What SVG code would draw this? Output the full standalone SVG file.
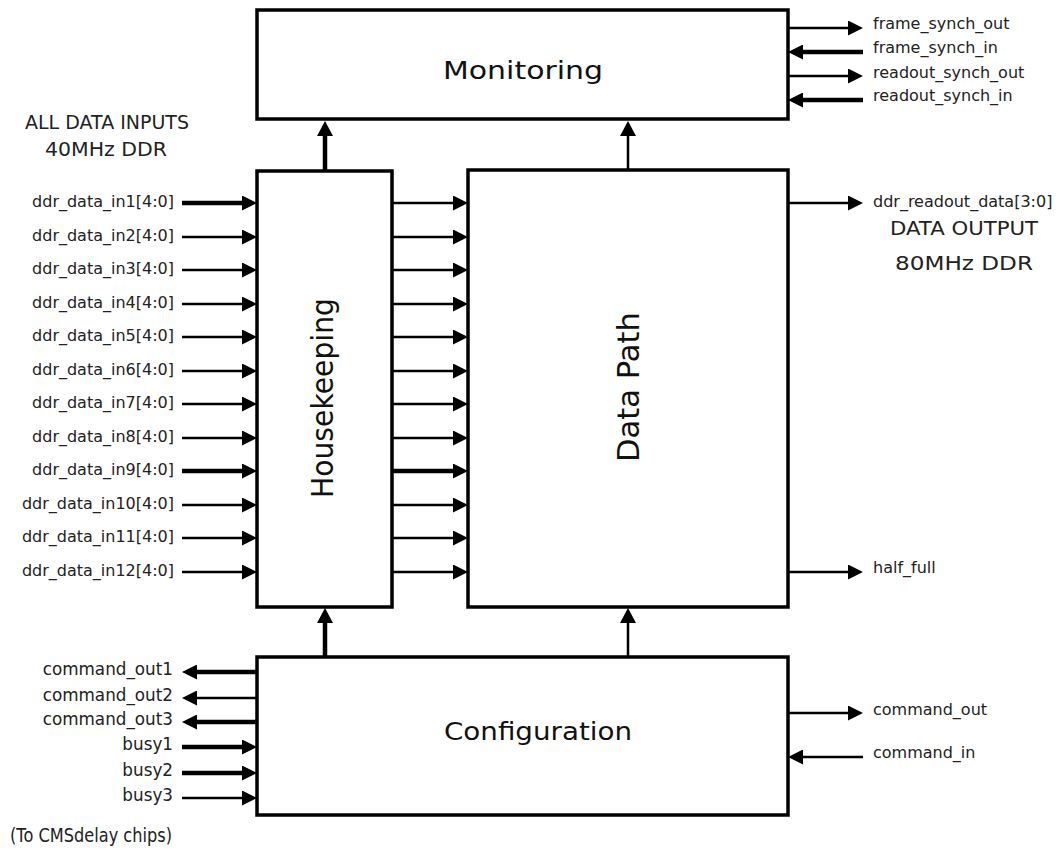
<svg xmlns="http://www.w3.org/2000/svg" width="1063" height="854" viewBox="0 0 1063 854">
<style>
.box{fill:#fff;stroke:#000;stroke-width:3.5}
.title{font-family:"DejaVu Sans",sans-serif;font-size:24px;fill:#111}
.vt{font-size:25px}
.lbl{font-family:"DejaVu Sans",sans-serif;font-size:16px;fill:#222}
.cmd{font-size:16.8px}
.note{font-family:"DejaVu Sans",sans-serif;font-size:20px;fill:#222}
.thin{stroke:#000;stroke-width:2.5;fill:none}
.thick{stroke:#000;stroke-width:4.5;fill:none}
.end{text-anchor:end}
.mid{text-anchor:middle}
</style>
<defs>
<marker id="ah" markerUnits="userSpaceOnUse" markerWidth="15" markerHeight="15" viewBox="0 0 15 15" refX="10" refY="7.5" orient="auto">
<path d="M0,0 L15,7.5 L0,15 z" fill="#000"/>
</marker>
<marker id="av" markerUnits="userSpaceOnUse" markerWidth="15" markerHeight="16" viewBox="0 0 15 16" refX="10" refY="8" orient="auto">
<path d="M0,0 L15,8 L0,16 z" fill="#000"/>
</marker>
</defs>

<g id="connectors">
<line class="thick" x1="182" y1="203" x2="252" y2="203" marker-end="url(#ah)"/>
<line class="thin" x1="182" y1="237" x2="252" y2="237" marker-end="url(#ah)"/>
<line class="thin" x1="182" y1="270" x2="252" y2="270" marker-end="url(#ah)"/>
<line class="thin" x1="182" y1="304" x2="252" y2="304" marker-end="url(#ah)"/>
<line class="thin" x1="182" y1="337" x2="252" y2="337" marker-end="url(#ah)"/>
<line class="thin" x1="182" y1="371" x2="252" y2="371" marker-end="url(#ah)"/>
<line class="thin" x1="182" y1="404" x2="252" y2="404" marker-end="url(#ah)"/>
<line class="thin" x1="182" y1="438" x2="252" y2="438" marker-end="url(#ah)"/>
<line class="thick" x1="182" y1="471" x2="252" y2="471" marker-end="url(#ah)"/>
<line class="thin" x1="182" y1="505" x2="252" y2="505" marker-end="url(#ah)"/>
<line class="thin" x1="182" y1="538" x2="252" y2="538" marker-end="url(#ah)"/>
<line class="thin" x1="182" y1="572" x2="252" y2="572" marker-end="url(#ah)"/>
<line class="thin" x1="392" y1="203" x2="463" y2="203" marker-end="url(#ah)"/>
<line class="thin" x1="392" y1="237" x2="463" y2="237" marker-end="url(#ah)"/>
<line class="thin" x1="392" y1="270" x2="463" y2="270" marker-end="url(#ah)"/>
<line class="thin" x1="392" y1="304" x2="463" y2="304" marker-end="url(#ah)"/>
<line class="thin" x1="392" y1="337" x2="463" y2="337" marker-end="url(#ah)"/>
<line class="thin" x1="392" y1="371" x2="463" y2="371" marker-end="url(#ah)"/>
<line class="thin" x1="392" y1="404" x2="463" y2="404" marker-end="url(#ah)"/>
<line class="thin" x1="392" y1="438" x2="463" y2="438" marker-end="url(#ah)"/>
<line class="thick" x1="392" y1="471" x2="463" y2="471" marker-end="url(#ah)"/>
<line class="thin" x1="392" y1="505" x2="463" y2="505" marker-end="url(#ah)"/>
<line class="thin" x1="392" y1="538" x2="463" y2="538" marker-end="url(#ah)"/>
<line class="thin" x1="392" y1="572" x2="463" y2="572" marker-end="url(#ah)"/>
<line class="thick" x1="325" y1="171" x2="325" y2="126" marker-end="url(#av)"/>
<line class="thin" x1="628" y1="170" x2="628" y2="126" marker-end="url(#av)"/>
<line class="thick" x1="325" y1="657" x2="325" y2="613" marker-end="url(#av)"/>
<line class="thin" x1="628" y1="657" x2="628" y2="613" marker-end="url(#av)"/>
<line class="thin" x1="788" y1="28" x2="858" y2="28" marker-end="url(#ah)"/>
<line class="thick" x1="863" y1="52" x2="793" y2="52" marker-end="url(#ah)"/>
<line class="thin" x1="788" y1="76" x2="858" y2="76" marker-end="url(#ah)"/>
<line class="thick" x1="863" y1="100" x2="793" y2="100" marker-end="url(#ah)"/>
<line class="thin" x1="788" y1="203" x2="858" y2="203" marker-end="url(#ah)"/>
<line class="thin" x1="788" y1="572" x2="858" y2="572" marker-end="url(#ah)"/>
<line class="thin" x1="788" y1="713" x2="858" y2="713" marker-end="url(#ah)"/>
<line class="thin" x1="863" y1="757" x2="793" y2="757" marker-end="url(#ah)"/>
<line class="thick" x1="257" y1="672" x2="187" y2="672" marker-end="url(#ah)"/>
<line class="thin" x1="257" y1="698" x2="187" y2="698" marker-end="url(#ah)"/>
<line class="thick" x1="257" y1="722" x2="187" y2="722" marker-end="url(#ah)"/>
<line class="thick" x1="182" y1="747" x2="252" y2="747" marker-end="url(#ah)"/>
<line class="thick" x1="182" y1="773" x2="252" y2="773" marker-end="url(#ah)"/>
<line class="thin" x1="182" y1="798" x2="252" y2="798" marker-end="url(#ah)"/>
</g>

<g id="monitoring">
<rect class="box" x="257" y="10" width="531" height="109"/>
<text class="title mid" x="523" y="79" textLength="160" lengthAdjust="spacingAndGlyphs">Monitoring</text>
</g>
<g id="housekeeping">
<rect class="box" x="257" y="171" width="135" height="436"/>
<text class="title vt" transform="translate(333,498) scale(1.2,1) rotate(-90)" x="0" y="0" textLength="200" lengthAdjust="spacingAndGlyphs">Housekeeping</text>
</g>
<g id="datapath">
<rect class="box" x="468" y="170" width="320" height="437"/>
<text class="title vt" transform="translate(639,462) scale(1.2,1) rotate(-90)" x="0" y="0" textLength="150" lengthAdjust="spacingAndGlyphs">Data Path</text>
</g>
<g id="configuration">
<rect class="box" x="257" y="657" width="531" height="158"/>
<text class="title mid" x="538" y="740" textLength="188" lengthAdjust="spacingAndGlyphs">Configuration</text>
</g>

<g id="labels">
<text class="note mid" x="107" y="129" textLength="164" lengthAdjust="spacingAndGlyphs">ALL DATA INPUTS</text>
<text class="note mid" x="106" y="156" textLength="122" lengthAdjust="spacingAndGlyphs">40MHz DDR</text>
<text class="lbl end" x="174" y="207">ddr_data_in1[4:0]</text>
<text class="lbl end" x="174" y="241">ddr_data_in2[4:0]</text>
<text class="lbl end" x="174" y="274">ddr_data_in3[4:0]</text>
<text class="lbl end" x="174" y="308">ddr_data_in4[4:0]</text>
<text class="lbl end" x="174" y="341">ddr_data_in5[4:0]</text>
<text class="lbl end" x="174" y="375">ddr_data_in6[4:0]</text>
<text class="lbl end" x="174" y="408">ddr_data_in7[4:0]</text>
<text class="lbl end" x="174" y="442">ddr_data_in8[4:0]</text>
<text class="lbl end" x="174" y="475">ddr_data_in9[4:0]</text>
<text class="lbl end" x="174" y="509">ddr_data_in10[4:0]</text>
<text class="lbl end" x="174" y="542">ddr_data_in11[4:0]</text>
<text class="lbl end" x="174" y="576">ddr_data_in12[4:0]</text>
<text class="lbl" x="873" y="29">frame_synch_out</text>
<text class="lbl" x="873" y="53">frame_synch_in</text>
<text class="lbl" x="873" y="78">readout_synch_out</text>
<text class="lbl" x="873" y="101">readout_synch_in</text>
<text class="lbl" x="873" y="207">ddr_readout_data[3:0]</text>
<text class="note mid" x="964" y="235" textLength="148" lengthAdjust="spacingAndGlyphs">DATA OUTPUT</text>
<text class="note mid" x="964" y="270" textLength="138" lengthAdjust="spacingAndGlyphs">80MHz DDR</text>
<text class="lbl" x="873" y="573">half_full</text>
<text class="lbl" x="873" y="715">command_out</text>
<text class="lbl" x="873" y="758">command_in</text>
<text class="lbl cmd end" x="173" y="675">command_out1</text>
<text class="lbl cmd end" x="173" y="701">command_out2</text>
<text class="lbl cmd end" x="173" y="725">command_out3</text>
<text class="lbl cmd end" x="173" y="750">busy1</text>
<text class="lbl cmd end" x="173" y="776">busy2</text>
<text class="lbl cmd end" x="173" y="801">busy3</text>
<text class="note" x="10" y="842" textLength="162" lengthAdjust="spacingAndGlyphs">(To CMSdelay chips)</text>
</g>
</svg>
